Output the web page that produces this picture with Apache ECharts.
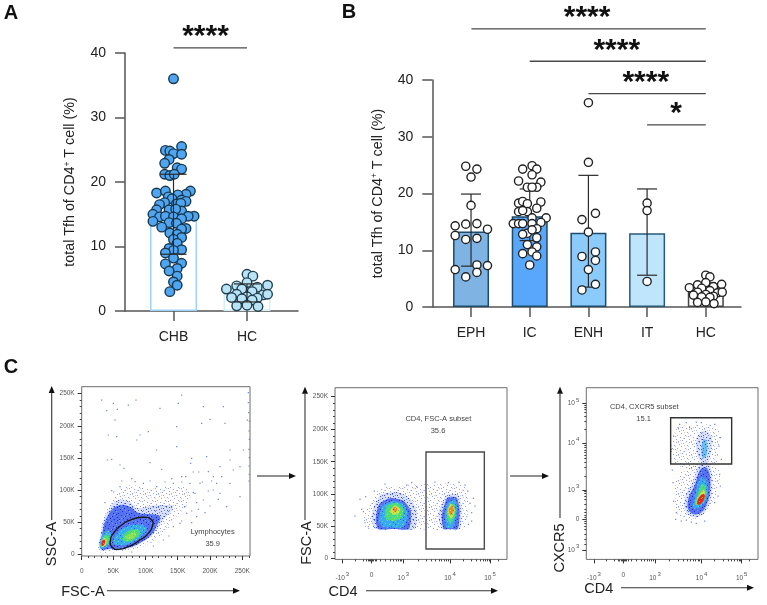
<!DOCTYPE html>
<html>
<head>
<meta charset="utf-8">
<style>html,body{margin:0;padding:0;background:#fff}#chart{width:767px;height:605px}</style>
<script src="https://cdn.jsdelivr.net/npm/echarts@6/dist/echarts.min.js"></script>
</head>
<body>
<div id="chart"></div>
<script>
// ---- Panel A: total Tfh, CHB vs HC ----
const groupsA = ['CHB', 'HC'];
const meansA = [15, 2.8];
const errLowA = [8.8, 1.4];
const errHighA = [21.2, 4.2];
const pointsChb = [[1,36],[1.11,25.5],[0.89,24.9],[0.95,24.8],[1,24.4],[1.11,24.3],[0.94,23.5],[0.88,22.9],[1.05,22.2],[1.11,22],[0.88,21.2],[0.95,21],[1.01,21.2],[0.77,18.3],[0.89,18.6],[1.23,18.6],[1.17,18.1],[1.06,18],[0.93,17.7],[0.98,17.4],[1.11,17.2],[1.17,17],[0.88,16.8],[0.81,16.5],[1.04,16.6],[1.1,16.7],[0.77,15.7],[0.72,15],[0.94,15.7],[1.11,15.5],[1.03,15.8],[0.81,14.6],[0.89,14.7],[1,14.6],[1.28,14.7],[1.2,14.7],[1.11,14.3],[0.72,13.9],[0.94,13.7],[1.04,13.6],[0.84,13],[1.17,12.8],[1.11,12.7],[0.95,12.1],[1.05,11.9],[1.11,11.4],[1,11.1],[1.05,10.5],[0.94,9.7],[1.11,9.5],[1,9.4],[0.89,9],[1,8.2],[0.89,7.3],[1.11,7.4],[1.05,6.6],[0.94,6.2],[1.05,5.4],[1,4.5],[1.05,4],[0.95,3]];
const pointsHcA = [[2,5.7],[2.08,5.4],[2,4.4],[1.86,3.9],[1.72,3.4],[2.28,4],[2.14,3.7],[1.93,3.4],[2.07,3],[1.86,2.6],[2.22,2.5],[2.28,2.6],[1.79,2.1],[2,2.2],[2.14,2],[1.93,1.9],[2.07,1.7],[1.86,0.8],[2,0.9],[2.15,0.7]];

// ---- Panel B: total Tfh by clinical phase ----
const groupsB = ['EPH', 'IC', 'ENH', 'IT', 'HC'];
const meansB = [13.3, 16, 13.1, 13, 2.8];
const errLowB = [7.2, 11.7, 3.5, 5.6, 1.4];
const errHighB = [19.9, 20.8, 23.2, 20.8, 4.2];
const pointsEph = [[0.91,24.8],[1.1,24.3],[1,22.9],[1,17.9],[0.73,14.3],[0.91,14.6],[1.1,14.7],[1.28,13.7],[0.73,12.6],[0.91,11.9],[1.1,12.1],[1.1,7.4],[0.73,6.6],[1.28,7.3],[1.1,6.1],[0.91,5.3]];
const pointsIc = [[2.04,24.9],[1.88,24.3],[2.12,24.3],[2.04,23.3],[1.81,22.2],[2.19,22],[1.96,21.1],[2.12,21.1],[2.04,21.1],[1.81,18.3],[1.88,18.6],[1.96,18.2],[2.19,18.5],[2.12,17.4],[1.81,16.8],[1.96,16.8],[1.88,17],[2.04,15.7],[2.28,15.7],[1.72,14.7],[1.81,14.7],[1.88,14.7],[2.04,14.7],[2.19,14.9],[2.12,13.8],[1.96,13],[1.88,12.8],[2.04,13.6],[2.12,12.2],[1.96,11],[2.12,10.6],[2.04,9.7],[1.88,9.4],[2.12,9],[2,7.4]];
const pointsEnh = [[3,36],[3,25.5],[3.12,16.5],[2.89,15.4],[3,13.2],[3.12,9.7],[2.89,8.9],[3.12,8.2],[3,6.6],[3.12,4],[2.89,3]];
const pointsIt = [[4,18.3],[4,17],[4,4.5]];
const pointsHcB = [[5,5.6],[5.07,5.3],[4.86,3.9],[5,4.3],[4.72,3.4],[5.27,4],[5.13,3.6],[4.93,3.3],[5.07,2.9],[4.86,2.6],[5.2,2.5],[5.28,2.6],[4.79,2.1],[5,2.2],[5.13,1.9],[4.93,1.8],[5.07,1.7],[4.86,0.8],[5,0.9],[5.14,0.6]];

// significance brackets: from, to, level, star text, star centre
const sigFromA = [1];
const sigToA = [2];
const sigLevelA = [40.8];
const sigTextA = ['****'];
const sigStarA = [1.436];
const sigFromB = [1.006, 2, 3, 4];
const sigToB = [5, 5, 5, 5];
const sigLevelB = [49, 43.3, 37.6, 32.1];
const sigTextB = ['****', '****', '****', '*'];
const sigStarB = [2.977, 3.483, 3.977, 4.494];

// ---- Panel C: gating plots, in instrument channels (0-512) ----
const scatterTicks = [0, 95, 192, 288, 385, 482];
const scatterTickLabels = ['0', '50K', '100K', '150K', '200K', '250K'];
const sscTicks = [5, 101, 196, 293, 390, 487];
const areaTicksY = [3, 99, 196, 293, 390, 488];
const biexTicksX = [22, 110, 205, 345, 465];
const biexTickLabels = ['-10^3', '0', '10^3', '10^4', '10^5'];
const biexMinorX = [60, 85, 95, 100, 104, 107, 110, 113, 116, 120, 125, 135, 150, 165, 175, 183, 190, 195, 200, 250, 275, 290, 302, 312, 320, 328, 335, 340, 385, 410, 425, 436, 445, 452, 458, 462, 490];
const cxcr5TicksY = [28, 120, 208, 349, 468];
const cxcr5TickLabels = ['10^3', '0', '10^3', '10^4', '10^5'];
const cxcr5MinorY = [45, 60, 75, 90, 100, 108, 114, 120, 126, 132, 140, 150, 165, 180, 190, 198, 204, 250, 275, 290, 302, 312, 320, 328, 335, 342, 390, 415, 430, 440, 450, 456, 462];

// density levels, outermost first: sparse, thin, blue, cyan, green, yellow, orange, red
const lymphLevels = [
  ['sparse', [[52,13],[55,58],[65,108],[80,148],[105,188],[140,213],[195,203],[265,208],[315,203],[325,168],[285,118],[245,68],[195,33],[135,18]]],
  ['thin', [[55,18],[58,73],[75,128],[105,165],[140,165],[165,145],[205,150],[245,153],[275,148],[245,108],[217,68],[185,43],[135,20],[85,18]]],
  ['blue', [[58,22],[62,70],[78,120],[105,150],[140,150],[170,130],[210,125],[235,118],[225,90],[210,65],[180,42],[135,24],[85,22]]],
  ['cyan', [[95,40],[108,70],[140,90],[175,94],[195,84],[178,58],[140,36],[112,32]]],
  ['green', [[122,50],[132,70],[158,80],[176,72],[158,50],[136,43]]],
  ['lime', [[132,54],[142,66],[158,71],[163,63],[150,50]]],
  ['cyan', [[55,25],[60,58],[75,76],[88,66],[84,43],[70,25]]],
  ['green', [[59,30],[65,56],[78,64],[84,48],[70,30]]],
  ['yellow', [[58,30],[61,47],[71,54],[75,43],[66,28]]],
  ['red', [[59,34],[61,45],[69,48],[70,40],[63,30]]]
];
const lymphSparse = [[60,468],[75,436],[95,458],[107,440],[100,408],[140,453],[163,468],[235,443],[290,458],[300,483],[285,388],[365,448],[425,448],[385,410],[430,398],[360,398],[497,408],[200,373],[165,348],[175,363],[80,363],[105,358],[77,288],[90,290],[115,273],[127,263],[225,318],[285,328],[330,293],[327,278],[375,298],[445,318],[485,318],[395,238],[445,288],[455,258],[415,188],[435,148],[355,218],[475,268],[395,198],[340,188],[365,168],[325,218],[310,148],[300,238],[275,218],[225,208],[185,218],[160,223],[115,208],[295,98],[315,128],[275,88],[245,48],[415,268],[380,253],[405,218],[445,218],[475,178],[345,118],[370,130],[330,100],[350,140],[410,170],[385,150],[500,490],[500,460],[501,430],[503,405],[502,375],[503,350],[502,320],[503,295],[502,270],[503,245],[502,225],[96,192],[120,225],[150,232],[205,225],[250,222],[300,222],[335,190],[345,160],[330,135],[300,105],[262,60],[215,30],[150,12],[90,196],[70,160],[270,232],[312,238],[352,252],[362,222],[390,225],[420,238],[380,195],[335,252],[240,260],[205,280]];

const areaLevels = [
  ['sparse', [[85,128],[105,168],[135,213],[195,220],[265,226],[385,223],[400,168],[385,91],[240,91],[95,91],[88,100]]],
  ['thin', [[110,128],[120,168],[140,196],[185,203],[225,183],[245,148],[240,91],[180,91],[120,91]]],
  ['blue', [[122,118],[132,165],[165,184],[205,176],[228,145],[222,91],[175,91],[130,91]]],
  ['cyan', [[132,112],[142,160],[175,175],[207,165],[218,135],[205,97],[145,97]]],
  ['green', [[150,135],[158,163],[185,170],[205,153],[200,125],[175,115],[155,120]]],
  ['yellow', [[165,146],[180,162],[196,151],[188,135],[172,135]]],
  ['orange', [[172,151],[180,158],[188,150],[180,142]]],
  ['thin', [[310,138],[335,193],[370,193],[380,148],[375,91],[345,91],[320,91]]],
  ['blue', [[320,130],[337,185],[365,185],[374,145],[368,91],[345,91],[326,91]]],
  ['cyan', [[330,128],[338,170],[362,178],[366,138],[352,96],[334,96]]],
  ['green', [[334,136],[344,164],[358,164],[361,130],[345,108]]],
  ['yellow', [[337,142],[347,168],[360,148],[349,122]]],
  ['orange', [[341,147],[350,162],[357,148],[347,132]]]
];
const areaSparse = [[75,180],[60,130],[85,143],[245,218],[215,223],[405,168],[415,183],[390,223],[395,128],[100,98],[90,110],[80,150],[410,140],[400,105],[420,160],[92,188],[118,205],[150,226],[230,230],[300,232],[340,230],[372,232],[398,205],[410,115]];

const cxcr5Levels = [
  ['sparse', [[266,288],[266,383],[321,403],[391,393],[396,328],[381,283]]],
  ['sparse', [[276,128],[266,208],[281,258],[331,283],[396,268],[396,218],[371,158],[331,123],[291,123]]],
  ['thin', [[340,298],[330,355],[350,385],[375,370],[373,318],[361,288]]],
  ['cyan2', [[346,320],[351,360],[360,355],[362,318],[351,303]]],
  ['thin', [[305,135],[295,178],[318,232],[341,285],[368,285],[378,218],[368,165],[341,130]]],
  ['blue', [[311,142],[305,178],[326,225],[344,272],[364,272],[372,218],[362,168],[340,138]]],
  ['cyan', [[321,155],[328,198],[343,245],[359,236],[364,198],[346,160]]],
  ['green', [[327,163],[334,193],[349,226],[359,203],[350,173]]],
  ['yellow', [[330,166],[338,190],[352,208],[355,188],[343,168]]],
  ['red', [[332,168],[341,190],[354,196],[354,183],[341,165]]]
];
const cxcr5Sparse = [[280,405],[300,410],[330,412],[385,405],[402,365],[405,300],[400,255],[402,220],[385,170],[270,140],[285,115],[300,118],[330,108],[355,115],[260,230],[255,330],[262,370],[310,395],[275,395],[345,410],[398,340],[258,268],[262,175],[268,120],[315,112],[395,190]];

const lymphGate = [[86,46],[95,68],[120,93],[155,111],[190,116],[210,108],[213,93],[200,68],[175,48],[140,28],[110,20],[92,26]];
const cd4Gate = [273, 31, 448, 322];
const cxcr5Gate = [253, 286, 436, 425];
const plotNotes = [
  [[393, 72, 'Lymphocytes'], [393, 37, '35.9']],
  [[310, 421, 'CD4, FSC-A subset'], [309, 385, '35.6']],
  [[174, 456, 'CD4, CXCR5 subset'], [172, 420, '15.1']]
];

const FONT = '"Liberation Sans", Arial, sans-serif';

// grain tile: a base wash plus scattered pixels, giving each density level its speckle
function grainTile(size, base, specks) {
  const c = document.createElement('canvas');
  c.width = size; c.height = size;
  const g = c.getContext('2d');
  if (base) { g.fillStyle = base; g.fillRect(0, 0, size, size); }
  specks.forEach(s => {
    g.fillStyle = s[0];
    s[1].forEach(p => g.fillRect(p[0], p[1], 1, 1));
  });
  return { image: c, repeat: 'repeat' };
}
const speckA = [[0,0],[7,1],[3,2],[11,3],[5,4],[9,6],[1,6],[12,7],[4,8],[8,9],[0,10],[6,11],[10,12],[2,12]];
const speckB = [[2,0],[10,0],[5,1],[0,3],[8,3],[3,5],[12,4],[6,6],[10,7],[1,8],[7,9],[12,10],[4,11],[9,12]];
const levelFills = {
  sparse: grainTile(13, null, [['rgba(60,85,230,0.55)', speckA], ['rgba(60,85,230,0.3)', speckB.filter((_, i) => i % 2 === 0)]]),
  thin: grainTile(13, 'rgba(120,145,245,0.28)', [['rgba(40,65,225,0.85)', speckA], ['rgba(60,90,235,0.6)', speckB]]),
  blue: grainTile(13, 'rgba(50,85,235,0.78)', [['rgba(25,40,200,0.9)', speckA], ['rgba(150,185,250,0.7)', speckB.filter((_, i) => i % 2 === 0)]]),
  cyan: grainTile(13, 'rgba(55,175,240,0.92)', [['rgba(40,90,230,0.8)', speckA.filter((_, i) => i % 2 === 0)], ['rgba(90,225,170,0.9)', speckB]]),
  cyan2: grainTile(13, 'rgba(60,175,235,0.7)', [['rgba(40,80,230,0.9)', speckA], ['rgba(90,225,190,0.8)', speckB.filter((_, i) => i % 2 === 0)]]),
  green: grainTile(13, '#4cdc78', [['#2cc6c0', speckA.filter((_, i) => i % 2 === 0)], ['#a6e64a', speckB.filter((_, i) => i % 2 === 0)]]),
  lime: grainTile(13, '#8ee050', [['#4cdc78', speckA], ['#d2e645', speckB.filter((_, i) => i % 2 === 0)]]),
  yellow: grainTile(13, '#cfe24a', [['#f0a030', speckA.filter((_, i) => i % 2 === 0)], ['#6fdc60', speckB]]),
  orange: grainTile(13, '#ee8a30', [['#e8361f', speckA], ['#e4d844', speckB.filter((_, i) => i % 2 === 0)]]),
  red: grainTile(13, '#e42a1e', [['#f09030', speckB]])
};

const yName = {
  rich: { n: { fontSize: 14.3, fontFamily: FONT, color: '#222' },
          s: { fontSize: 8.5, fontFamily: FONT, color: '#222', padding: [0, 0, 6, 0] } }
};
const yNameText = '{n|total Tfh of CD4}{s|+}{n| T cell (%)}';

const grids = [
  { left: 125, top: 53, width: 173, height: 258 },
  { left: 432.3, top: 80, width: 308.7, height: 227 },
  { left: 81.7, top: 386.7, width: 168.3, height: 169.3, show: true, borderColor: '#6d6d6d', borderWidth: 1 },
  { left: 335, top: 387.7, width: 172, height: 171.7, show: true, borderColor: '#6d6d6d', borderWidth: 1 },
  { left: 586.3, top: 387.7, width: 171.7, height: 171.7, show: true, borderColor: '#6d6d6d', borderWidth: 1 }
];

function barXAxis(grid, min, max, names) {
  const values = names.map((_, i) => i + 1);
  return {
    type: 'value', gridIndex: grid, min, max, splitLine: { show: false },
    axisLine: { show: true, onZero: false, lineStyle: { color: '#555', width: 1.5 } },
    axisTick: { show: true, customValues: values, length: 10, lineStyle: { color: '#555', width: 1.5 } },
    axisLabel: { customValues: values, margin: 19, fontSize: 14, fontFamily: FONT, color: '#222', formatter: v => names[v - 1] }
  };
}
function barYAxis(grid) {
  return {
    type: 'value', gridIndex: grid, min: 0, max: 40, interval: 10, splitLine: { show: false },
    axisLine: { show: true, lineStyle: { color: '#555', width: 1.5 } },
    axisTick: { show: true, length: 10, lineStyle: { color: '#555', width: 1.5 } },
    axisLabel: { margin: 19, fontSize: 14, fontFamily: FONT, color: '#222' },
    name: yNameText, nameLocation: 'middle', nameRotate: 90, nameGap: 47, nameTextStyle: yName
  };
}

// gating plot axes: a major axis with labels plus an unlabelled one for the short ticks
const tinyRich = { b: { fontSize: 6.5, fontFamily: FONT, color: '#555' },
                   s: { fontSize: 6, fontFamily: FONT, color: '#555', padding: [0, 0, 7, 1] } };
function tickLabel(text) {
  const m = text.match(/^(-?\d+)\^(\d)$/);
  return m ? '{b|' + m[1] + '}{s|' + m[2] + '}' : '{b|' + text + '}';
}
function flowAxis(grid, side, max, ticks, labels, minor, margin) {
  const base = { type: 'value', gridIndex: grid, position: side, min: 0, max, splitLine: { show: false },
                 axisLine: { show: false, onZero: false } };
  return [
    Object.assign({}, base, {
      axisTick: { show: true, customValues: ticks, length: 4, lineStyle: { color: '#333', width: 1 } },
      axisLabel: { customValues: ticks, margin, rich: tinyRich,
                   formatter: v => tickLabel(labels[ticks.indexOf(v)]) }
    }),
    Object.assign({}, base, {
      axisTick: { show: true, customValues: minor, length: 2, lineStyle: { color: '#444', width: 1 } },
      axisLabel: { show: false }
    })
  ];
}
// short ticks every 10K between the labelled 50K ticks
function tenKTicks(ticks, step) {
  const out = [];
  ticks.forEach(t => { for (let k = 1; k < 5; k++) if (t + k * step < 505) out.push(t + k * step); });
  return out;
}

const xAxes = [
  barXAxis(0, 0.34, 2.694, groupsA),
  barXAxis(1, 0.34, 5.6, groupsB),
  ...flowAxis(2, 'bottom', 505, scatterTicks, scatterTickLabels, tenKTicks(scatterTicks, 19.3), 12),
  ...flowAxis(3, 'bottom', 516, biexTicksX, biexTickLabels, biexMinorX, 12),
  ...flowAxis(4, 'bottom', 515, biexTicksX.map(v => v + 1), biexTickLabels, biexMinorX, 12)
];
const yAxes = [
  barYAxis(0),
  barYAxis(1),
  ...flowAxis(2, 'left', 508, sscTicks, scatterTickLabels, tenKTicks(sscTicks, 19.3), 7),
  ...flowAxis(3, 'left', 515, areaTicksY, scatterTickLabels, tenKTicks(areaTicksY, 19.3), 7),
  ...flowAxis(4, 'left', 515, cxcr5TicksY, cxcr5TickLabels, cxcr5MinorY, 7)
];

function barSeries(axis, means, fills, strokes, width) {
  return {
    type: 'bar', xAxisIndex: axis, yAxisIndex: axis, barWidth: width, z: 1, silent: true,
    data: means.map((v, i) => ({ value: [i + 1, v],
      itemStyle: { color: fills[i], borderColor: strokes[i], borderWidth: 1.5 } }))
  };
}
function dotSeries(axis, points, fill, stroke, size) {
  return {
    type: 'scatter', xAxisIndex: axis, yAxisIndex: axis, data: points, symbolSize: size, z: 3, silent: true,
    clip: false, itemStyle: { color: fill, borderColor: stroke, borderWidth: 1.4, opacity: 1 }
  };
}
function errorSeries(axis, lows, highs, cap, z) {
  return {
    type: 'custom', xAxisIndex: axis, yAxisIndex: axis, z, silent: true,
    data: lows.map((low, i) => [i + 1, low, highs[i]]),
    encode: { x: 0, y: [1, 2] },
    renderItem(params, api) {
      const a = api.coord([api.value(0), api.value(1)]);
      const b = api.coord([api.value(0), api.value(2)]);
      const style = { stroke: '#2a2a2a', lineWidth: 1.2, fill: 'none' };
      return { type: 'group', children: [
        { type: 'line', shape: { x1: a[0], y1: a[1], x2: b[0], y2: b[1] }, style },
        { type: 'line', shape: { x1: a[0] - cap, y1: a[1], x2: a[0] + cap, y2: a[1] }, style },
        { type: 'line', shape: { x1: b[0] - cap, y1: b[1], x2: b[0] + cap, y2: b[1] }, style }
      ] };
    }
  };
}
function sigSeries(axis, from, to, level, text, star) {
  return {
    type: 'custom', xAxisIndex: axis, yAxisIndex: axis, z: 5, silent: true, clip: false,
    data: from.map((f, i) => [f, to[i], level[i], star[i]]),
    renderItem(params, api) {
      const i = params.dataIndex;
      const a = api.coord([api.value(0), api.value(2)]);
      const b = api.coord([api.value(1), api.value(2)]);
      const s = api.coord([api.value(3), api.value(2)]);
      return { type: 'group', children: [
        { type: 'line', shape: { x1: a[0], y1: a[1], x2: b[0], y2: b[1] }, style: { stroke: '#4a4a4a', lineWidth: 1.3 } },
        { type: 'text', x: s[0], y: s[1] - 11, style: { text: text[i], fill: '#111', fontFamily: FONT, fontWeight: 'bold', fontSize: 30,
          align: 'center', verticalAlign: 'middle', lineHeight: 30 } }
      ] };
    }
  };
}
function densitySeries(axis, levels, smooth) {
  return {
    type: 'custom', xAxisIndex: axis, yAxisIndex: axis, z: 2, silent: true,
    data: levels.map((_, i) => [i]),
    renderItem(params, api) {
      const level = levels[params.dataIndex];
      return { type: 'polygon', shape: { points: level[1].map(p => api.coord(p)), smooth },
        style: { fill: levelFills[level[0]] } };
    }
  };
}
function speckSeries(axis, points) {
  return { type: 'scatter', xAxisIndex: axis, yAxisIndex: axis, data: points, symbol: 'rect', symbolSize: 1.2, z: 2, silent: true,
    itemStyle: { color: '#4a62e0', opacity: 0.8 } };
}
function gateSeries(axis, build) {
  return { type: 'custom', xAxisIndex: axis, yAxisIndex: axis, z: 5, silent: true, data: [[0]], renderItem: (p, api) => build(api) };
}
function noteSeries(axis, notes) {
  return { type: 'custom', xAxisIndex: axis, yAxisIndex: axis, z: 6, silent: true, data: notes,
    encode: { x: 0, y: 1 },
    renderItem(params, api) {
      const c = api.coord([api.value(0), api.value(1)]);
      return { type: 'text', x: c[0], y: c[1], style: { text: notes[params.dataIndex][2], fill: '#444', fontFamily: FONT, fontSize: 7.5, align: 'center', verticalAlign: 'middle' } };
    } };
}
function rectGate(box, stroke) {
  return api => {
    const a = api.coord([box[0], box[1]]);
    const b = api.coord([box[2], box[3]]);
    return { type: 'rect', shape: { x: a[0], y: b[1], width: b[0] - a[0], height: a[1] - b[1] },
      style: { fill: 'none', stroke, lineWidth: 1.4 } };
  };
}

const series = [
  barSeries(0, meansA, ['#ffffff', '#ffffff'], ['#9fd2fb', '#d3eefb'], 47),
  dotSeries(0, pointsChb, '#4fa5f0', '#17384f', 9.5),
  dotSeries(0, pointsHcA, '#b9e4f7', '#1f3f4f', 9.5),
  errorSeries(0, errLowA, errHighA, 13, 4),
  sigSeries(0, sigFromA, sigToA, sigLevelA, sigTextA, sigStarA),

  barSeries(1, meansB, ['#7fb3e4', '#58a7fa', '#8acbfb', '#bfe5fd', '#ffffff'], ['#1d4c6b', '#1d4c6b', '#1d4c6b', '#2a5a78', '#444444'], 36),
  errorSeries(1, errLowB, errHighB, 10, 2),
  dotSeries(1, pointsEph.concat(pointsIc, pointsEnh, pointsIt, pointsHcB), '#ffffff', '#222222', 8.2),
  sigSeries(1, sigFromB, sigToB, sigLevelB, sigTextB, sigStarB),

  densitySeries(2, lymphLevels, 0.45),
  speckSeries(2, lymphSparse),
  gateSeries(2, api => ({ type: 'polygon', shape: { points: lymphGate.map(p => api.coord(p)), smooth: 0.6 },
    style: { fill: 'none', stroke: '#1a1a1a', lineWidth: 1.4 } })),
  noteSeries(2, plotNotes[0]),

  densitySeries(4, areaLevels, 0.2),
  speckSeries(4, areaSparse),
  gateSeries(4, rectGate(cd4Gate, '#4a4a4a')),
  noteSeries(4, plotNotes[1]),

  densitySeries(6, cxcr5Levels, 0.45),
  speckSeries(6, cxcr5Sparse),
  gateSeries(6, rectGate(cxcr5Gate, '#333333')),
  noteSeries(6, plotNotes[2])
];

// page furniture: panel letters, gating arrows and their captions
function arrow(x1, y1, x2, y2) {
  const len = Math.hypot(x2 - x1, y2 - y1), ux = (x2 - x1) / len, uy = (y2 - y1) / len;
  const bx = x2 - ux * 7, by = y2 - uy * 7;
  return [
    { type: 'line', shape: { x1, y1, x2: bx, y2: by }, style: { stroke: '#333', lineWidth: 1.1 }, silent: true },
    { type: 'polygon', shape: { points: [[x2, y2], [bx - uy * 3, by + ux * 3], [bx + uy * 3, by - ux * 3]] }, style: { fill: '#111' }, silent: true }
  ];
}
function caption(text, x, y, rotate) {
  return { type: 'text', x, y, rotation: rotate ? Math.PI / 2 : 0, silent: true,
    style: { text, fill: '#222', fontFamily: FONT, fontSize: 14.5, align: 'center', verticalAlign: 'middle' } };
}
function panelLetter(text, x, y) {
  return { type: 'text', x, y, silent: true,
    style: { text, fill: '#111', fontFamily: FONT, fontWeight: 'bold', fontSize: 20, align: 'center', verticalAlign: 'middle' } };
}
const graphics = [
  panelLetter('A', 11, 13), panelLetter('B', 349, 12), panelLetter('C', 11, 367),
  ...arrow(51.7, 520, 51.7, 386), ...arrow(107, 590.7, 240, 590.7),
  ...arrow(305, 520, 305, 386.7), ...arrow(366, 590.7, 498, 590.7),
  ...arrow(560, 518, 560, 386.7), ...arrow(621, 587.7, 754, 587.7),
  ...arrow(257, 476, 296, 476), ...arrow(510, 476, 549, 476),
  caption('SSC-A', 52, 544, true), caption('FSC-A', 83, 592),
  caption('FSC-A', 306.7, 543, true), caption('CD4', 343, 591.7),
  caption('CXCR5', 560, 548, true), caption('CD4', 598.7, 589)
];

const chart = echarts.init(document.getElementById('chart'), null, { renderer: 'canvas' });
chart.setOption({
  animation: false,
  backgroundColor: '#ffffff',
  grid: grids,
  xAxis: xAxes,
  yAxis: yAxes,
  series,
  graphic: { elements: graphics }
});
</script>
</body>
</html>
